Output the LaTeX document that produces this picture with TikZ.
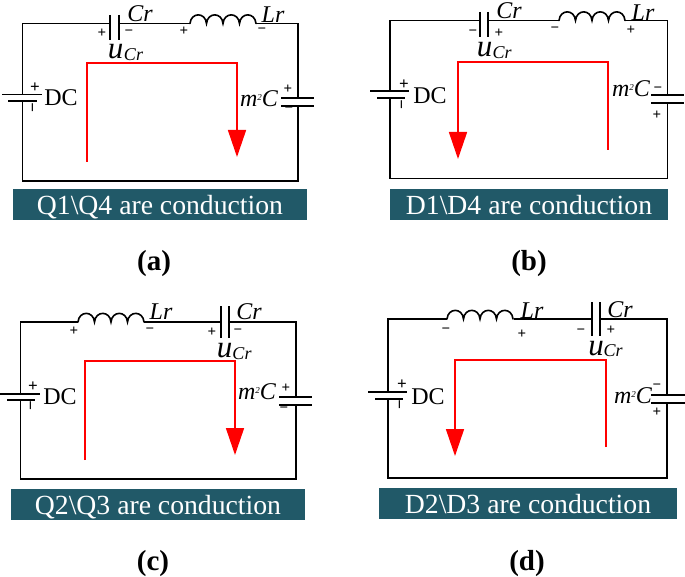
\documentclass[tikz,border=0pt]{standalone}
\usepackage{fontspec}
\setmainfont{Liberation Serif}
\usetikzlibrary{arrows.meta}
\definecolor{banner}{HTML}{215968}
\tikzset{
  x=1pt,y=-1pt,
  wire/.style={draw=black,line width=1.6pt,line cap=square},
  coil/.style={draw=black,line width=1.6pt,line cap=round},
  plate/.style={draw=black,line width=1.6pt},
  flow/.style={draw=red,line width=1.6pt,-{Triangle[length=27pt,width=18pt,fill=red]}},
  sign/.style={inner sep=0pt,font=\fontsize{15}{15}\selectfont\bfseries},
  bsign/.style={inner sep=0pt,font=\fontsize{17}{17}\selectfont\bfseries},
  lab/.style={inner sep=0pt,font=\fontsize{24}{24}\selectfont},
  ilab/.style={inner sep=0pt,font=\fontsize{24}{24}\selectfont\itshape},
  ubig/.style={inner sep=0pt,font=\fontsize{31}{31}\selectfont\itshape},
  usub/.style={inner sep=0pt,font=\fontsize{18}{18}\selectfont\itshape},
  banner box/.style={fill=banner,text=white,inner sep=0pt,anchor=center,font=\fontsize{27.7}{27.7}\selectfont},
  caption/.style={inner sep=0pt,font=\fontsize{29}{29}\selectfont\bfseries},
}
\newcommand{\Bump}{.. controls +(1,-11.5) and +(-1,-11.5) .. ++(16.5,0)}
\newcommand{\Coil}[1]{\draw[coil] (#1) \Bump \Bump \Bump \Bump;}
\newcommand{\UCr}[5]{%
  \node[ubig] (#1-u) at (#2,#3) {u};
  \node[usub] (#1-us) at (#4,#5) {Cr};}
\newcommand{\MC}[3]{%
  \node[inner sep=0pt] (#1-mc) at (#2,#3) {\fontsize{24}{24}\selectfont\itshape m\raisebox{6pt}{\fontsize{9}{9}\selectfont 2}C};}
\begin{document}
\begin{tikzpicture}
\useasboundingbox (0,0) rectangle (685,577);
% ---------- (a)
\coordinate (a-tl) at (22.5,23.5);\coordinate (a-tr) at (298,23.5);
\coordinate (a-bl) at (22.5,181);\coordinate (a-br) at (298,181);
\coordinate (a-c1) at (110,23.5);\coordinate (a-c2) at (119,23.5);
\coordinate (a-l1) at (190,23.5);\coordinate (a-l2) at (256,23.5);
\coordinate (a-b1) at (22.5,94.5);\coordinate (a-b2) at (22.5,101);
\coordinate (a-m1) at (298,98);\coordinate (a-m2) at (298,106);
\draw[wire] (a-b1) -- (a-tl) -- (a-c1);
\draw[wire] (a-c2) -- (a-l1);
\draw[wire] (a-l2) -- (a-tr) -- (a-m1);
\draw[wire] (a-m2) -- (a-br) -- (a-bl) -- (a-b2);
\draw[plate] (110,15) -- (110,40);\draw[plate] (119,15) -- (119,40);
\Coil{a-l1}
\draw[plate] (2,94.5) -- (42,94.5);\draw[plate] (8,101) -- (37,101);
\draw[plate] (281,98) -- (314,98);\draw[plate] (281,106) -- (314,106);
\node[ilab] (a-cr) at (140,14) {Cr};
\node[ilab] (a-lr) at (273,15) {Lr};
\node[sign] (a-s1) at (102,33) {+};\node[sign] (a-s2) at (129,33) {−};
\node[sign] (a-s3) at (184,31) {+};\node[sign] (a-s4) at (262,31) {−};
\UCr{a}{115.5}{52}{133.5}{55}
\node[bsign] (a-s5) at (35,88) {+};\node[bsign,rotate=90] (a-s6) at (35,108) {−};
\node[lab] (a-dc) at (61,98) {DC};
\node[sign] (a-s7) at (288,89) {+};\node[sign] (a-s8) at (289,110) {−};
\MC{a}{259}{99}
\coordinate (a-f0) at (87,162);\coordinate (a-f1) at (87,63);\coordinate (a-f2) at (237,63);\coordinate (a-f3) at (237,157);
\draw[flow] (a-f0) -- (a-f1) -- (a-f2) -- (a-f3);
\node[banner box,minimum width=294pt,minimum height=31pt,text depth=0pt] (a-box) at (160,204.5) {Q1\textbackslash Q4 are conduction};
\node[caption] (a-cap) at (154,264) {(a)};
% ---------- (b)
\coordinate (b-tl) at (390,20.5);\coordinate (b-tr) at (667.5,20.5);
\coordinate (b-bl) at (390,178.5);\coordinate (b-br) at (667.5,178.5);
\coordinate (b-c1) at (480,20.5);\coordinate (b-c2) at (488,20.5);
\coordinate (b-l1) at (559,20.5);\coordinate (b-l2) at (625,20.5);
\coordinate (b-b1) at (390,91);\coordinate (b-b2) at (390,98);
\coordinate (b-m1) at (667.5,95);\coordinate (b-m2) at (667.5,103);
\draw[wire] (b-b1) -- (b-tl) -- (b-c1);
\draw[wire] (b-c2) -- (b-l1);
\draw[wire] (b-l2) -- (b-tr) -- (b-m1);
\draw[wire] (b-m2) -- (b-br) -- (b-bl) -- (b-b2);
\draw[plate] (480,12) -- (480,37);\draw[plate] (488,12) -- (488,37);
\Coil{b-l1}
\draw[plate] (370,91) -- (409,91);\draw[plate] (377,98) -- (405,98);
\draw[plate] (651,95) -- (684,95);\draw[plate] (651,103) -- (684,103);
\node[ilab] (b-cr) at (509,11) {Cr};
\node[ilab] (b-lr) at (643,13) {Lr};
\node[sign] (b-s1) at (473,33) {−};\node[sign] (b-s2) at (499,33) {+};
\node[sign] (b-s3) at (555,30) {−};\node[sign] (b-s4) at (631,30) {+};
\UCr{b}{484.5}{50}{502}{52.5}
\node[bsign] (b-s5) at (404,85) {+};\node[bsign,rotate=90] (b-s6) at (404,105) {−};
\node[lab] (b-dc) at (430,96) {DC};
\node[sign] (b-s7) at (658,90) {−};\node[sign] (b-s8) at (657,115) {+};
\MC{b}{631}{89}
\coordinate (b-f0) at (608,150);\coordinate (b-f1) at (608,62);\coordinate (b-f2) at (458,62);\coordinate (b-f3) at (458,159);
\draw[flow] (b-f0) -- (b-f1) -- (b-f2) -- (b-f3);
\node[banner box,minimum width=278pt,minimum height=31pt,text depth=0pt] (b-box) at (529,204.5) {D1\textbackslash D4 are conduction};
\node[caption] (b-cap) at (529,264) {(b)};
% ---------- (c)
\coordinate (c-tl) at (20.5,322);\coordinate (c-tr) at (296,322);
\coordinate (c-bl) at (20.5,479);\coordinate (c-br) at (296,479);
\coordinate (c-l1) at (78,322);\coordinate (c-l2) at (144,322);
\coordinate (c-c1) at (221,322);\coordinate (c-c2) at (229,322);
\coordinate (c-b1) at (20.5,394);\coordinate (c-b2) at (20.5,400);
\coordinate (c-m1) at (296,397);\coordinate (c-m2) at (296,405);
\draw[wire] (c-b1) -- (c-tl) -- (c-l1);
\draw[wire] (c-l2) -- (c-c1);
\draw[wire] (c-c2) -- (c-tr) -- (c-m1);
\draw[wire] (c-m2) -- (c-br) -- (c-bl) -- (c-b2);
\draw[plate] (221,306) -- (221,338);\draw[plate] (229,306) -- (229,338);
\Coil{c-l1}
\draw[plate] (0,394) -- (40,394);\draw[plate] (7,400) -- (35,400);
\draw[plate] (279,397) -- (312,397);\draw[plate] (279,405) -- (312,405);
\node[ilab] (c-cr) at (249,312) {Cr};
\node[ilab] (c-lr) at (161,312) {Lr};
\node[sign] (c-s1) at (212,332) {+};\node[sign] (c-s2) at (238,332) {−};
\node[sign] (c-s3) at (74,331) {+};\node[sign] (c-s4) at (150,331) {−};
\UCr{c}{224.5}{351}{242}{354}
\node[bsign] (c-s5) at (33,387) {+};\node[bsign,rotate=90] (c-s6) at (33,406) {−};
\node[lab] (c-dc) at (60,397) {DC};
\node[sign] (c-s7) at (286,388) {+};\node[sign] (c-s8) at (284,410) {−};
\MC{c}{257}{392}
\coordinate (c-f0) at (85,460);\coordinate (c-f1) at (85,361);\coordinate (c-f2) at (235,361);\coordinate (c-f3) at (235,455);
\draw[flow] (c-f0) -- (c-f1) -- (c-f2) -- (c-f3);
\node[banner box,minimum width=294pt,minimum height=31pt,text depth=0pt] (c-box) at (158,504.5) {Q2\textbackslash Q3 are conduction};
\node[caption] (c-cap) at (153,564) {(c)};
% ---------- (d)
\coordinate (d-tl) at (388,319);\coordinate (d-tr) at (667,319);
\coordinate (d-bl) at (388,478);\coordinate (d-br) at (667,478);
\coordinate (d-l1) at (447,319);\coordinate (d-l2) at (514,319);
\coordinate (d-c1) at (592,319);\coordinate (d-c2) at (600,319);
\coordinate (d-b1) at (388,392);\coordinate (d-b2) at (388,399);
\coordinate (d-m1) at (667,395);\coordinate (d-m2) at (667,403);
\draw[wire] (d-b1) -- (d-tl) -- (d-l1);
\draw[wire] (d-l2) -- (d-c1);
\draw[wire] (d-c2) -- (d-tr) -- (d-m1);
\draw[wire] (d-m2) -- (d-br) -- (d-bl) -- (d-b2);
\draw[plate] (592,302) -- (592,336);\draw[plate] (600,302) -- (600,336);
\Coil{d-l1}
\draw[plate] (368,392) -- (407,392);\draw[plate] (375,399) -- (403,399);
\draw[plate] (651,395) -- (685,395);\draw[plate] (651,403) -- (685,403);
\node[ilab] (d-cr) at (620,310) {Cr};
\node[ilab] (d-lr) at (532,311) {Lr};
\node[sign] (d-s1) at (581,332) {−};\node[sign] (d-s2) at (611,330) {+};
\node[sign] (d-s3) at (446,331) {−};\node[sign] (d-s4) at (522,334) {+};
\UCr{d}{596}{349}{613}{351}
\node[bsign] (d-s5) at (402,385) {+};\node[bsign,rotate=90] (d-s6) at (402,405) {−};
\node[lab] (d-dc) at (428,397) {DC};
\node[sign] (d-s7) at (657,387) {−};\node[sign] (d-s8) at (657,412) {+};
\MC{d}{633}{396}
\coordinate (d-f0) at (606,447);\coordinate (d-f1) at (606,360);\coordinate (d-f2) at (455,360);\coordinate (d-f3) at (455,456);
\draw[flow] (d-f0) -- (d-f1) -- (d-f2) -- (d-f3);
\node[banner box,minimum width=298pt,minimum height=31pt,text depth=0pt] (d-box) at (528,503.5) {D2\textbackslash D3 are conduction};
\node[caption] (d-cap) at (527,564) {(d)};
\end{tikzpicture}
\end{document}
